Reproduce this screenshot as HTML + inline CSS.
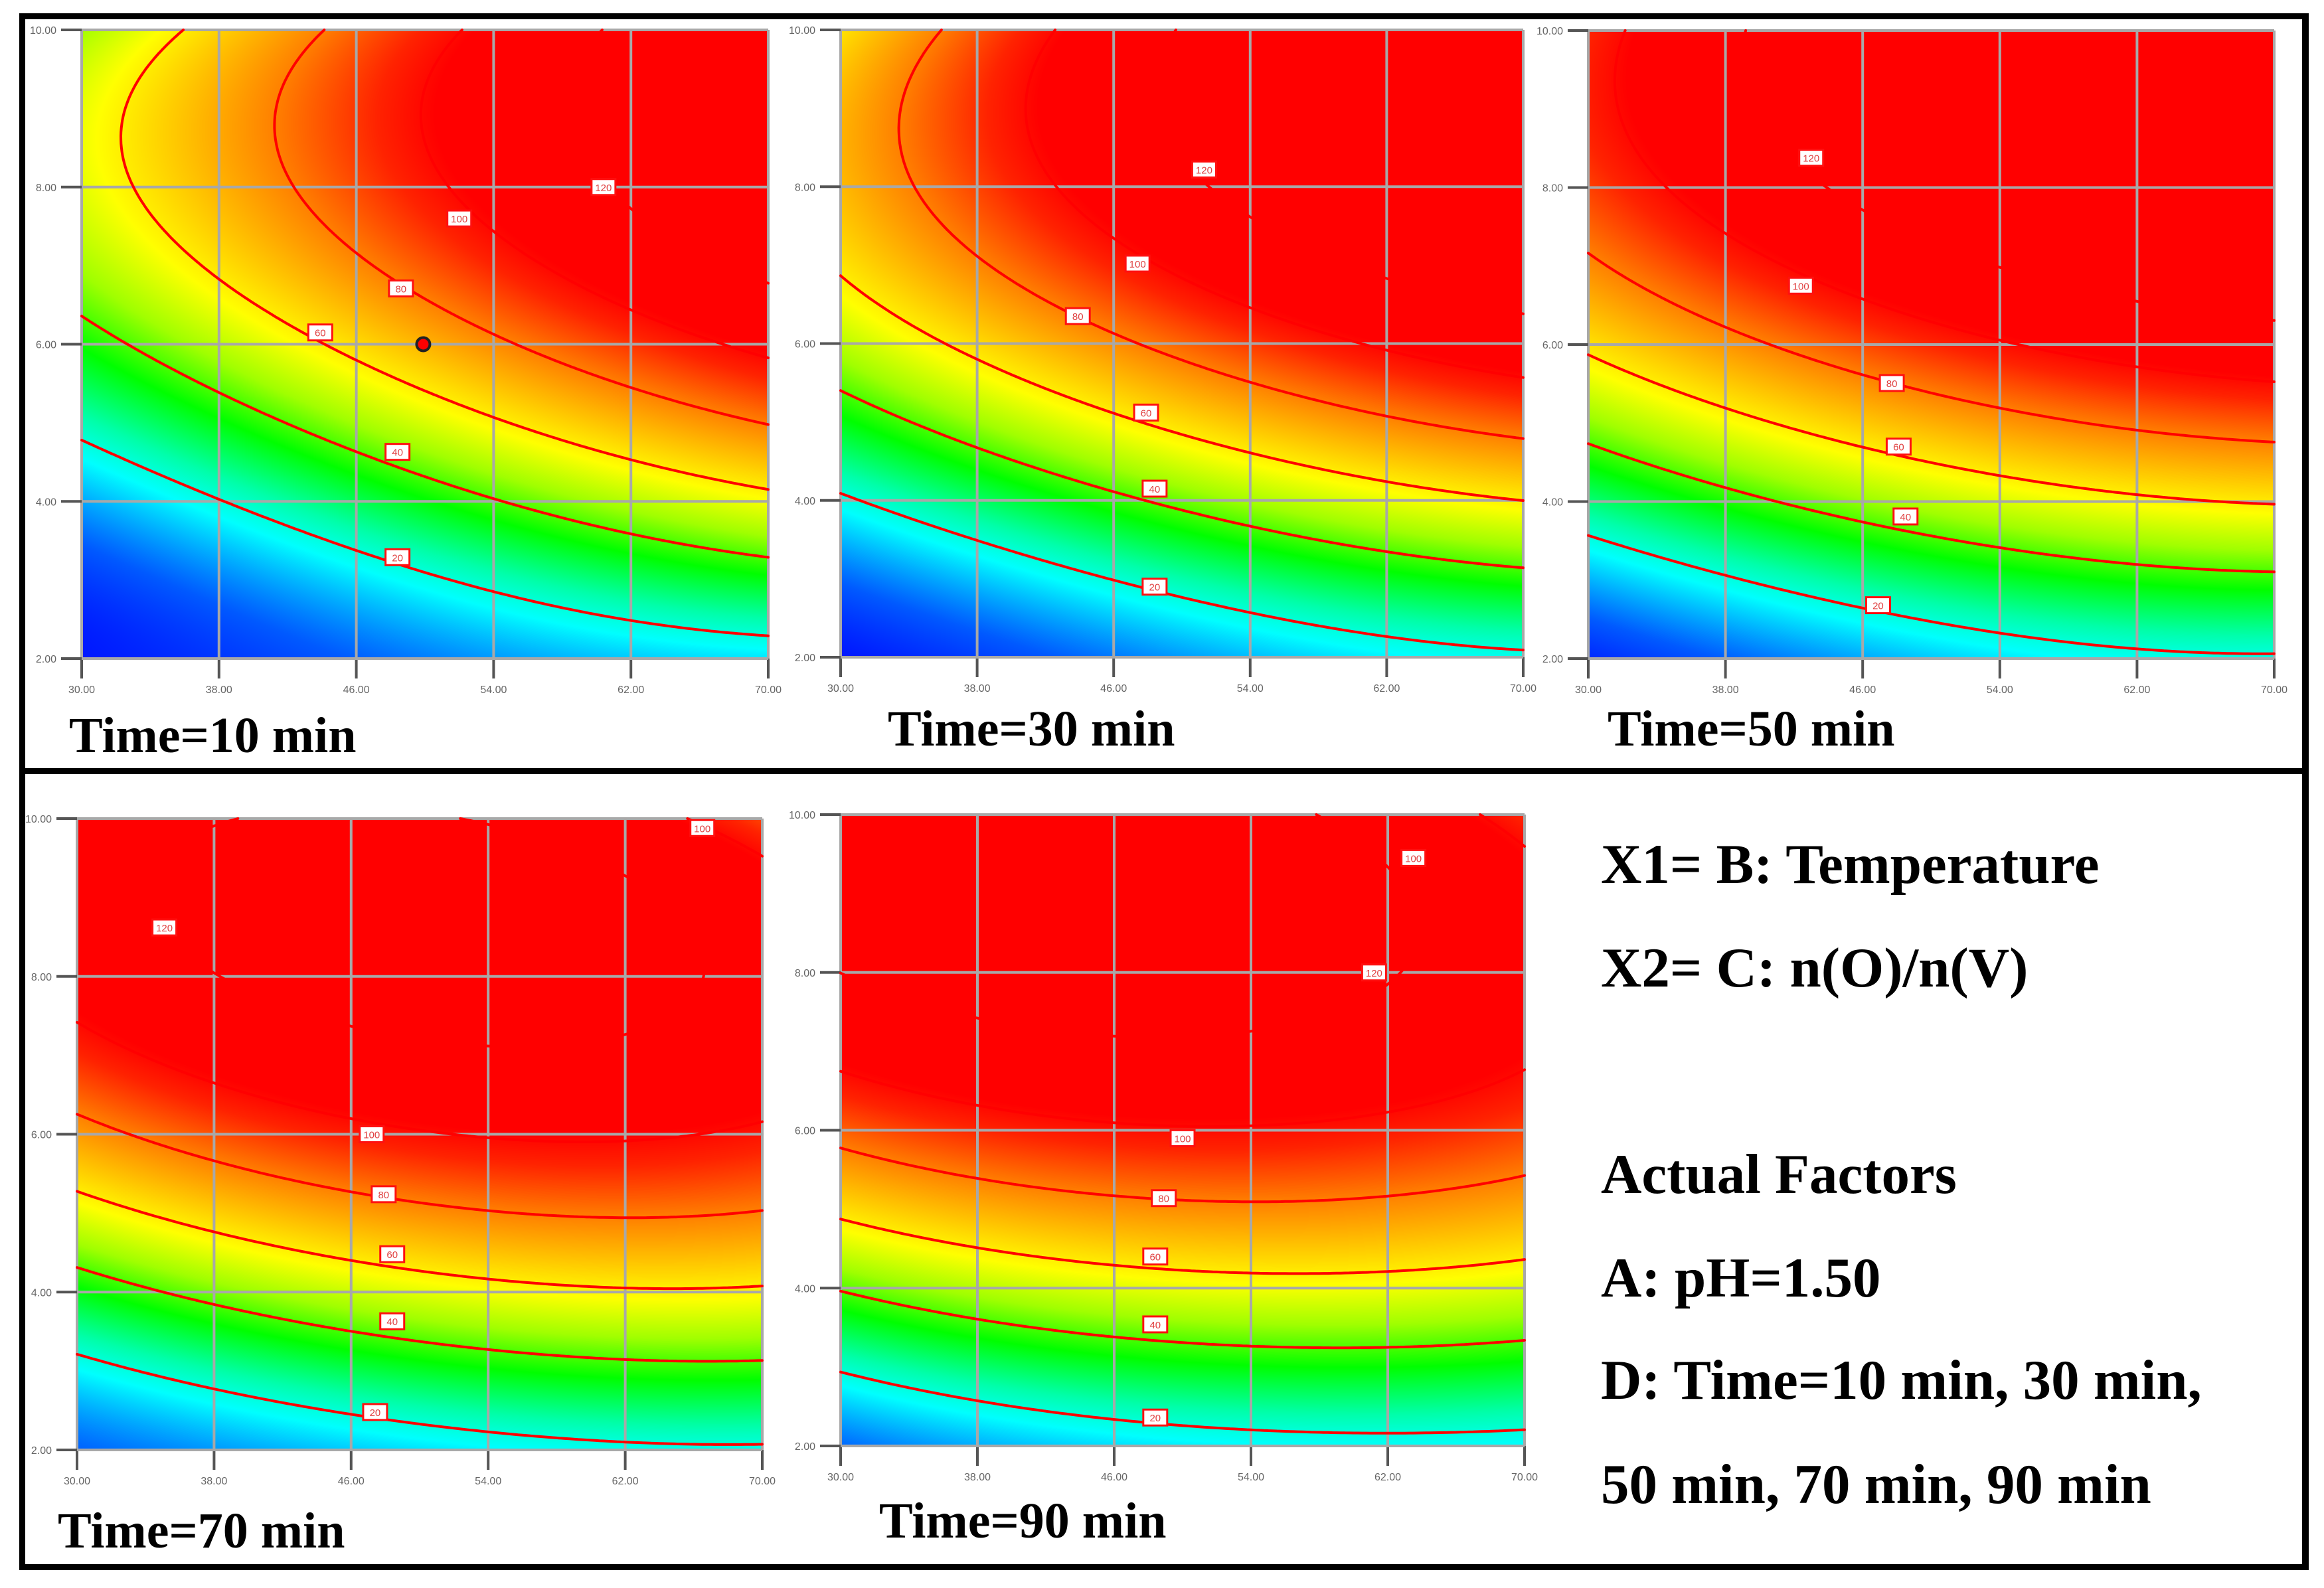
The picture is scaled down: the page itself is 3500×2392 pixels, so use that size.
<!DOCTYPE html>
<html><head><meta charset="utf-8">
<style>
html,body{margin:0;padding:0;background:#fff;}
#root{position:relative;width:3500px;height:2392px;overflow:hidden;background:#fff;}
canvas{position:absolute;}
svg{position:absolute;left:0;top:0;}
.ttl{position:absolute;font-family:"Liberation Serif",serif;font-weight:bold;font-size:76px;line-height:1;white-space:nowrap;color:#000;}
.info{position:absolute;font-family:"Liberation Serif",serif;font-weight:bold;font-size:85px;line-height:1;white-space:nowrap;color:#000;}
</style></head>
<body>
<div id="root">
<svg id="frame" width="3500" height="2392">
  <rect x="29" y="20" width="9" height="2345" fill="#000"/>
  <rect x="38" y="20" width="3439" height="9" fill="#000"/>
  <rect x="3467" y="20" width="10" height="2345" fill="#000"/>
  <rect x="38" y="1157" width="3439" height="9" fill="#000"/>
  <rect x="38" y="2356" width="3439" height="9" fill="#000"/>
</svg>
<div class="ttl" style="left:104px;top:1070px">Time=10 min</div>
<div class="ttl" style="left:1337px;top:1060px">Time=30 min</div>
<div class="ttl" style="left:2421px;top:1060px">Time=50 min</div>
<div class="ttl" style="left:87px;top:2268px">Time=70 min</div>
<div class="ttl" style="left:1324px;top:2253px">Time=90 min</div>
<div class="info" style="left:2411px;top:1260px">X1= B: Temperature</div>
<div class="info" style="left:2411px;top:1416px">X2= C: n(O)/n(V)</div>
<div class="info" style="left:2411px;top:1727px">Actual Factors</div>
<div class="info" style="left:2411px;top:1883px">A: pH=1.50</div>
<div class="info" style="left:2411px;top:2037px">D: Time=10 min, 30 min,</div>
<div class="info" style="left:2411px;top:2194px">50 min, 70 min, 90 min</div>
</div>
<script>
const xTicks=[30,38,46,54,62,70];
const yTicks=[2,4,6,8,10];
const xTickLabels=["30.00","38.00","46.00","54.00","62.00","70.00"];
const yTickLabels=["2.00","4.00","6.00","8.00","10.00"];
const levels=[20,40,60,80,100,120];
const p1Obs=[[20,30,4.67],[20,38,3.94],[20,46,3.34],[20,54,2.85],[20,62,2.47],[20,70,2.16],
 [40,30,6.55],[40,38,5.47],[40,46,4.71],[40,54,4.11],[40,62,3.69],[40,70,3.35],
 [60,34.7,10],[60,32.5,8.83],[60,38,6.89],[60,46,5.86],[60,54,5.08],[60,62,4.56],[60,70,4.20],
 [80,45.8,10],[80,41.3,8.63],[80,46,6.95],[80,54,5.98],[80,62,5.40],[80,70,4.96],
 [100,52,7.6],[120,60.4,8.0]];
const p2Obs=[[20,30,4.0],[20,38,3.40],[20,46,2.94],[20,54,2.54],[20,62,2.23],[20,70,2.02],
 [40,30,5.51],[40,38,4.79],[40,46,4.22],[40,54,3.74],[40,62,3.40],[40,70,3.19],
 [60,30,6.90],[60,38,5.84],[60,46,5.19],[60,54,4.64],[60,62,4.25],[60,70,4.03],
 [80,36.4,10],[80,32.7,8.76],[80,38,7.0],[80,46,6.0],[80,54,5.42],[80,62,5.01],[80,70,4.77],
 [100,47.4,7.02],[120,51.3,8.22]];
const p3Obs=[[20,30,3.47],[20,38,3.01],[20,46,2.60],[20,54,2.30],[20,62,2.08],[20,66.6,2.0],
 [40,30,4.84],[40,38,4.26],[40,46,3.85],[40,54,3.49],[40,62,3.27],[40,70,3.12],
 [60,30,5.93],[60,38,5.22],[60,46,4.77],[60,54,4.35],[60,62,4.12],[60,70,3.99],
 [80,30,7.08],[80,38,6.12],[80,46,5.51],[80,54,5.10],[80,62,4.86],[80,70,4.75],
 [100,42.4,6.75],[120,43.0,8.38]];
const p4Obs=[[20,30,3.09],[20,38,2.70],[20,46,2.40],[20,54,2.18],[20,62,2.04],[20,67.3,2.0],
 [40,30,4.37],[40,38,3.95],[40,46,3.59],[40,54,3.35],[40,62,3.23],[40,70,3.21],
 [60,30,5.31],[60,38,4.82],[60,46,4.44],[60,54,4.21],[60,62,4.11],[60,70,4.12],
 [80,30,6.22],[80,38,5.63],[80,46,5.22],[80,54,4.98],[80,62,4.87],[80,70,4.91],
 [100,47.2,6.0],[120,35.1,8.62],[100,66.5,9.88]];
const p5Obs=[[20,30,2.80],[20,38,2.51],[20,46,2.31],[20,54,2.17],[20,62,2.11],[20,70,2.13],
 [40,30,4.03],[40,38,3.70],[40,46,3.48],[40,54,3.35],[40,62,3.32],[40,70,3.42],
 [60,30,4.93],[60,38,4.56],[60,46,4.35],[60,54,4.23],[60,62,4.24],[60,70,4.40],
 [80,30,5.74],[80,38,5.34],[80,46,5.10],[80,54,5.0],[80,62,5.06],[80,70,5.37],
 [100,50,5.90],[100,66.9,10],[100,70,9.68],[120,61.2,8.0]];
// contour labels: [value, x, y]
const p1Labels=[[20,48.4,3.29],[40,48.4,4.63],[60,43.9,6.15],[80,48.6,6.71],[100,52.0,7.6],[120,60.4,8.0]];
const p2Labels=[[20,48.4,2.90],[40,48.4,4.15],[60,47.9,5.12],[80,43.9,6.35],[100,47.4,7.02],[120,51.3,8.22]];
const p3Labels=[[20,46.9,2.68],[40,48.5,3.81],[60,48.1,4.70],[80,47.7,5.51],[100,42.4,6.75],[120,43.0,8.38]];
const p4Labels=[[20,47.4,2.48],[40,48.4,3.63],[60,48.4,4.48],[80,47.9,5.24],[100,47.2,6.0],[120,35.1,8.62],[100,66.5,9.88]];
const p5Labels=[[20,48.4,2.36],[40,48.4,3.54],[60,48.4,4.40],[80,48.9,5.14],[100,50.0,5.90],[120,61.2,8.0],[100,63.5,9.45]];
const designPoint=[49.9,6.0];

const panels=[
 {name:'time-10',L:123,R:1157,T:45,B:992,obs:p1Obs,labels:p1Labels,dot:true},
 {name:'time-30',L:1266,R:2294,T:45,B:990,obs:p2Obs,labels:p2Labels},
 {name:'time-50',L:2392,R:3425,T:46,B:992,obs:p3Obs,labels:p3Labels},
 {name:'time-70',L:116,R:1148,T:1233,B:2184,obs:p4Obs,labels:p4Labels},
 {name:'time-90',L:1266,R:2296,T:1227,B:2178,obs:p5Obs,labels:p5Labels}
];
const stops=[[-5,0,0,255],[5,0,90,255],[17,0,255,255],[24,0,255,170],[35,0,255,0],[46,160,255,0],[57,255,255,0],[80,255,128,0],[94,255,35,0],[102,255,0,0]];
function color(v){
  if(v<=stops[0][0]) return stops[0].slice(1);
  for(let k=1;k<stops.length;k++){
    if(v<=stops[k][0]){const a=stops[k-1],b=stops[k];const t=(v-a[0])/(b[0]-a[0]);
      return [a[1]+(b[1]-a[1])*t,a[2]+(b[2]-a[2])*t,a[3]+(b[3]-a[3])*t];}
  }
  return stops[stops.length-1].slice(1);
}
// ridge-regularised cubic response surface fitted to the observations
function makeField(obs){
  const basis=(u,v)=>[1,u,v,u*v,u*u,v*v,u*u*u,u*u*v,u*v*v,v*v*v];
  const n=10,ridge=[0,0,0,0,0,0,0.1,0.1,0.1,0.1];
  const A=[];for(let i=0;i<n;i++){A.push(new Array(n+1).fill(0));A[i][i]=ridge[i];}
  obs.forEach(o=>{
    const b=basis((o[1]-50)/20,(o[2]-6)/4);const z=o[0];
    for(let r=0;r<n;r++){for(let c=0;c<n;c++)A[r][c]+=b[r]*b[c];A[r][n]+=b[r]*z;}
  });
  for(let c=0;c<n;c++){
    let piv=c;for(let r=c+1;r<n;r++)if(Math.abs(A[r][c])>Math.abs(A[piv][c]))piv=r;
    [A[c],A[piv]]=[A[piv],A[c]];
    for(let r=0;r<n;r++){if(r===c)continue;const m=A[r][c]/A[c][c];for(let k=c;k<=n;k++)A[r][k]-=m*A[c][k];}
  }
  const coef=A.map((row,i)=>row[n]/row[i]);
  return function(x,y){const b=basis((x-50)/20,(y-6)/4);let s=0;for(let k=0;k<n;k++)s+=coef[k]*b[k];return s;};
}
const root=document.getElementById('root');
const NS='http://www.w3.org/2000/svg';
const svg=document.getElementById('frame');
function se(tag,attrs,parent){const e=document.createElementNS(NS,tag);for(const k in attrs)e.setAttribute(k,attrs[k]);(parent||svg).appendChild(e);return e;}

panels.forEach(p=>{
  const W=p.R-p.L,H=p.B-p.T;
  const f=makeField(p.obs);
  const sx=x=>p.L+(x-xTicks[0])/(xTicks[xTicks.length-1]-xTicks[0])*W;
  const sy=y=>p.B-(y-yTicks[0])/(yTicks[yTicks.length-1]-yTicks[0])*H;
  const xmin=xTicks[0],xmax=xTicks[xTicks.length-1],ymin=yTicks[0],ymax=yTicks[yTicks.length-1];
  const cv=document.createElement('canvas');
  cv.width=W;cv.height=H;cv.style.left=p.L+'px';cv.style.top=p.T+'px';
  
  
  root.insertBefore(cv,svg);
  const ctx=cv.getContext('2d');const img=ctx.createImageData(W,H);
  for(let py=0;py<H;py++){const y=ymax-(py+0.5)/H*(ymax-ymin);
    for(let px=0;px<W;px++){const x=xmin+(px+0.5)/W*(xmax-xmin);
      const c=color(f(x,y));const o=(py*W+px)*4;
      img.data[o]=c[0];img.data[o+1]=c[1];img.data[o+2]=c[2];img.data[o+3]=255;}}
  ctx.putImageData(img,0,0);
  const g=se('g',{});
  
  
  xTicks.forEach((t,i)=>{
    const l=se('line',{x1:sx(t),x2:sx(t),y1:p.T,y2:p.B,stroke:'#a8a8a8','stroke-width':4},g);
    
    
    const tk=se('line',{x1:sx(t),x2:sx(t),y1:p.B,y2:p.B+30,stroke:'#555','stroke-width':4},g);
    
    
    const tx=se('text',{x:sx(t),y:p.B+52,'text-anchor':'middle','font-family':'Liberation Sans, sans-serif','font-size':16,fill:'#666'},g);
    tx.textContent=xTickLabels[i];
    
    
  });
  yTicks.forEach((t,i)=>{
    const l=se('line',{x1:p.L,x2:p.R,y1:sy(t),y2:sy(t),stroke:'#a8a8a8','stroke-width':4},g);
    
    
    const tk=se('line',{x1:p.L-31,x2:p.L,y1:sy(t),y2:sy(t),stroke:'#555','stroke-width':4},g);
    
    
    const tx=se('text',{x:p.L-38,y:sy(t)+6,'text-anchor':'end','font-family':'Liberation Sans, sans-serif','font-size':16,fill:'#666'},g);
    tx.textContent=yTickLabels[i];
    
    
  });
  const N=160,M=160;const vals=[];
  for(let j=0;j<=M;j++){vals.push([]);for(let i=0;i<=N;i++){vals[j].push(f(xmin+i/N*(xmax-xmin),ymin+j/M*(ymax-ymin)));}}
  levels.forEach(lv=>{
    let d='';
    for(let j=0;j<M;j++)for(let i=0;i<N;i++){
      const a=vals[j][i],b=vals[j][i+1],c=vals[j+1][i+1],e=vals[j+1][i];
      const pts=[];
      const edge=(v1,v2,x1,y1,x2,y2)=>{if((v1<lv)!==(v2<lv)){const t=(lv-v1)/(v2-v1);pts.push([x1+(x2-x1)*t,y1+(y2-y1)*t]);}};
      edge(a,b,i,j,i+1,j);edge(b,c,i+1,j,i+1,j+1);edge(c,e,i+1,j+1,i,j+1);edge(e,a,i,j+1,i,j);
      for(let k=0;k+1<pts.length;k+=2){
        const X=q=>(p.L+q[0]/N*W).toFixed(1),Y=q=>(p.B-q[1]/M*H).toFixed(1);
        d+='M'+X(pts[k])+' '+Y(pts[k])+'L'+X(pts[k+1])+' '+Y(pts[k+1]);
      }
    }
    const path=se('path',{d:d,stroke:'#ff0000','stroke-width':4,fill:'none','stroke-linecap':'round'},g);
    
    
  });
  p.labels.forEach(lb=>{
    const cx=sx(lb[1]),cy=sy(lb[2]);
    const r=se('rect',{x:cx-18,y:cy-12,width:36,height:24,fill:'#fff',stroke:'#ff1010','stroke-width':3},g);
    
    
    const t=se('text',{x:cx,y:cy+6,'text-anchor':'middle','font-family':'Liberation Sans, sans-serif','font-size':15,fill:'#e04040'},g);
    t.textContent=lb[0];
    
    
  });
  if(p.dot){
    const c=se('circle',{cx:sx(designPoint[0]),cy:sy(designPoint[1]),r:10,fill:'#f00',stroke:'#222','stroke-width':4},g);
    
    
  }
});
</script>
</body></html>
